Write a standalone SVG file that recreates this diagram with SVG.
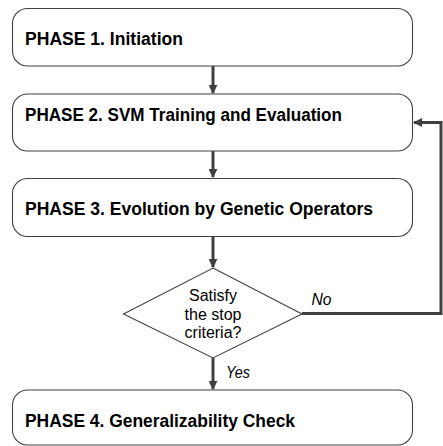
<svg xmlns="http://www.w3.org/2000/svg" width="443" height="446" viewBox="0 0 443 446">
<style>
.box{fill:#fff;stroke:#404040;stroke-width:1.1}
.t{font-family:"Liberation Sans",Arial,sans-serif;font-weight:bold;font-size:18px;fill:#000}
.d{font-family:"Liberation Sans",Arial,sans-serif;font-size:16px;fill:#000}
.lbl{font-family:"Liberation Sans",Arial,sans-serif;font-style:italic;font-size:16px;fill:#000}
.c{fill:none;stroke:#404040;stroke-width:3}
</style>
<defs>
<marker id="ah" markerWidth="3" markerHeight="3" refX="2.7" refY="1.5" orient="auto" markerUnits="strokeWidth">
<path d="M0,0 L3,1.5 L0,3 Z" fill="#404040"/>
</marker>
</defs>
<rect width="443" height="446" fill="#fff"/>
<g id="connectors">
<line class="c" x1="213" y1="66" x2="213" y2="93" marker-end="url(#ah)"/>
<line class="c" x1="213" y1="151" x2="213" y2="177" marker-end="url(#ah)"/>
<line class="c" x1="213" y1="237" x2="213" y2="267" marker-end="url(#ah)"/>
<line class="c" x1="213" y1="358" x2="213" y2="389" marker-end="url(#ah)"/>
<polyline class="c" points="302,313.5 441,313.5 441,122.5 414,122.5" marker-end="url(#ah)"/>
<text class="lbl" x="311.5" y="305" textLength="20" lengthAdjust="spacingAndGlyphs">No</text>
<text class="lbl" x="226" y="378" textLength="24" lengthAdjust="spacingAndGlyphs">Yes</text>
</g>
<g id="phase1">
<rect class="box" x="12.5" y="8.5" width="400" height="57.5" rx="15"/>
<text class="t" x="25" y="45" textLength="158" lengthAdjust="spacingAndGlyphs">PHASE 1. Initiation</text>
</g>
<g id="phase2">
<rect class="box" x="12.5" y="94" width="400" height="57" rx="15"/>
<text class="t" x="25" y="121" textLength="317" lengthAdjust="spacingAndGlyphs">PHASE 2. SVM Training and Evaluation</text>
</g>
<g id="phase3">
<rect class="box" x="12.5" y="178.5" width="400" height="58" rx="15"/>
<text class="t" x="25" y="215" textLength="348" lengthAdjust="spacingAndGlyphs">PHASE 3. Evolution by Genetic Operators</text>
</g>
<g id="decision">
<polygon class="box" points="213,268 302,314 213,358 123.5,314"/>
<text class="d" x="213" y="300.5" text-anchor="middle">Satisfy</text>
<text class="d" x="213" y="320" text-anchor="middle">the stop</text>
<text class="d" x="213" y="338" text-anchor="middle">criteria?</text>
</g>
<g id="phase4">
<rect class="box" x="12.5" y="390" width="400" height="55" rx="15"/>
<text class="t" x="25" y="427" textLength="270" lengthAdjust="spacingAndGlyphs">PHASE 4. Generalizability Check</text>
</g>
</svg>
